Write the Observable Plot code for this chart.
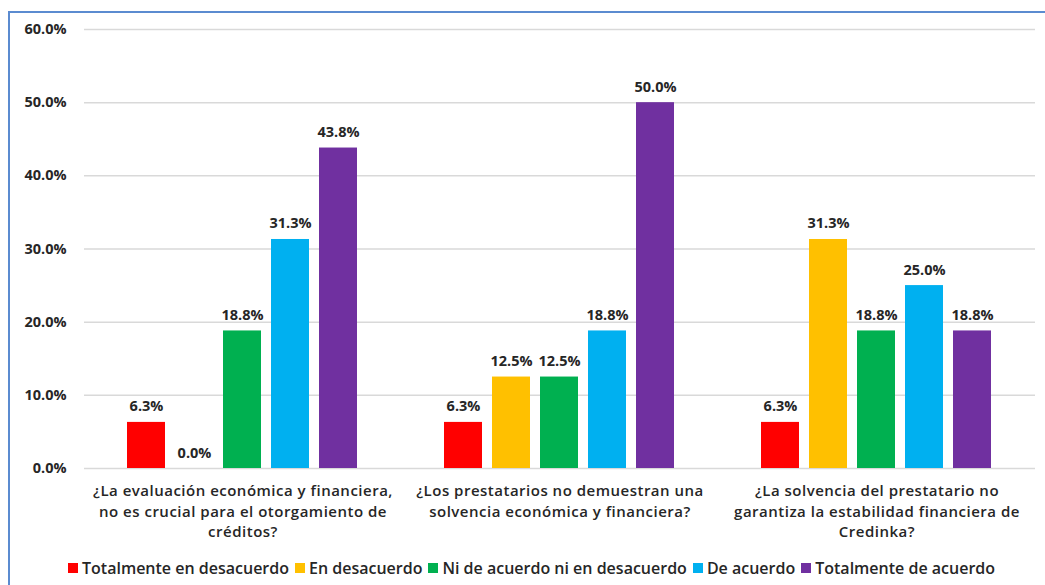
<!DOCTYPE html>
<html>
<head>
<meta charset="utf-8">
<script src="https://cdn.jsdelivr.net/npm/d3@7"></script>
<script src="https://cdn.jsdelivr.net/npm/@observablehq/plot@0.6"></script>
<style>
  body { margin: 0; background: #fff; font-family: "Open Sans", Lato, sans-serif; }
  #wrap { position: relative; width: 1045px; height: 585px; overflow: hidden; background: #fff; }
  #frame { position: absolute; left: 8px; top: 11px; width: 1200px; height: 800px; border: 2px solid #5b8bd0; box-sizing: border-box; }
  #chart { position: absolute; left: 0; top: 0; }
  #chart .category text { letter-spacing: 0.5px; }
  #legend { position: absolute; left: 68px; top: 557px; display: flex; align-items: center; font-size: 16px; font-weight: 600; color: #262626; white-space: nowrap; }
  #legend .item { display: flex; align-items: center; margin-right: 6px; }
  #legend .sw { width: 10px; height: 10px; margin-right: 4px; }
</style>
</head>
<body>
<div id="wrap">
  <div id="frame"></div>
  <div id="chart"></div>
  <div id="legend"></div>
</div>
<script>
// Survey questions (category labels, wrapped as shown)
const questions = [
  "¿La evaluación económica y financiera,\nno es crucial para el otorgamiento de\ncréditos?",
  "¿Los prestatarios no demuestran una\nsolvencia económica y financiera?",
  "¿La solvencia del prestatario no\ngarantiza la estabilidad financiera de\nCredinka?"
];

// Likert response levels and their colours
const series = [
  "Totalmente en desacuerdo",
  "En desacuerdo",
  "Ni de acuerdo ni en desacuerdo",
  "De acuerdo",
  "Totalmente de acuerdo"
];
const colors = ["#ff0000", "#ffc000", "#00b050", "#00b0f0", "#7030a0"];

// Percent of respondents per question, in the order of `series`
const valuesQ1 = [6.3, 0.0, 18.8, 31.3, 43.8];
const valuesQ2 = [6.3, 12.5, 12.5, 18.8, 50.0];
const valuesQ3 = [6.3, 31.3, 18.8, 25.0, 18.8];

// Y axis ticks (percent)
const yTicks = [0, 10, 20, 30, 40, 50, 60];

const allValues = [valuesQ1, valuesQ2, valuesQ3];
const rows = questions.flatMap((q, i) =>
  series.map((s, j) => ({ question: q, series: s, value: allValues[i][j] }))
);

const pct = d => d.toFixed(1) + "%";
const ink = "#262626";

const chart = Plot.plot({
  width: 1045,
  height: 550,
  marginLeft: 83,
  marginRight: 9,
  marginTop: 29,
  marginBottom: 82,
  style: { fontFamily: "'Open Sans', Lato, sans-serif", background: "transparent" },
  fx: { domain: questions, padding: 0, axis: null },
  x: { domain: series, paddingInner: 0.2, paddingOuter: 0.84, axis: null },
  y: { domain: [0, 60], axis: null },
  color: { domain: series, range: colors },
  marks: [
    Plot.gridY(yTicks, { stroke: "#d9d9d9", strokeOpacity: 1, strokeWidth: 1.5 }),
    Plot.axisY(yTicks, {
      label: null, tickSize: 0, tickPadding: 18, tickFormat: pct,
      fontWeight: "bold", fontSize: 14.5, fill: ink
    }),
    Plot.barY(rows, { fx: "question", x: "series", y: "value", fill: "series" }),
    Plot.text(rows, {
      fx: "question", x: "series", y: "value", text: d => pct(d.value),
      lineAnchor: "bottom", dy: -11, fontWeight: "bold", fontSize: 14.5, fill: ink
    }),
    // Question labels under each group
    Plot.text(questions, {
      fx: d => d, text: d => d, frameAnchor: "bottom", lineAnchor: "top",
      dy: 13, fontSize: 15, fontWeight: 600, lineHeight: 1.37, fill: ink,
      className: "category"
    })
  ]
});
document.getElementById("chart").append(chart);

// Legend row beneath the plot
const legend = document.getElementById("legend");
series.forEach((s, i) => {
  const item = document.createElement("div");
  item.className = "item";
  const sw = document.createElement("span");
  sw.className = "sw";
  sw.style.background = colors[i];
  const label = document.createElement("span");
  label.textContent = s;
  item.append(sw, label);
  legend.append(item);
});
</script>
</body>
</html>
